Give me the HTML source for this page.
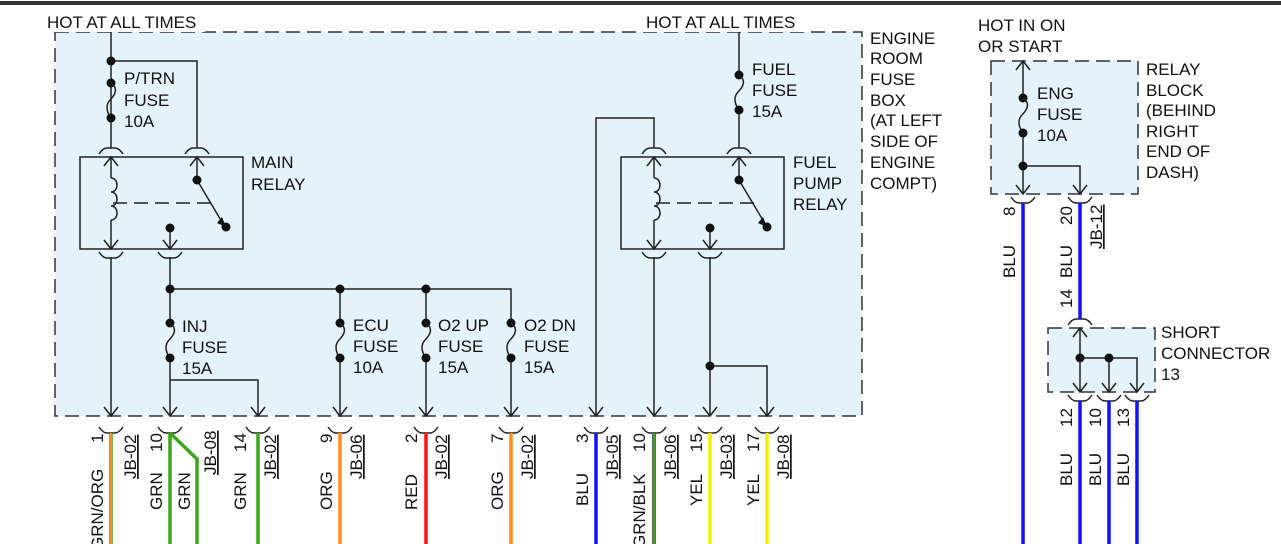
<!DOCTYPE html>
<html><head><meta charset="utf-8"><style>
html,body{margin:0;padding:0;background:#fff;width:1281px;height:544px;overflow:hidden}
svg{display:block}
text{font-family:"Liberation Sans",sans-serif;font-size:17px;fill:#111}
</style></head><body>
<svg width="1281" height="544" viewBox="0 0 1281 544" xmlns="http://www.w3.org/2000/svg">
<defs>
<g id="fc"><path d="M-12,6 Q-8,0 -4,0 H4 Q8,0 12,6" fill="none" stroke="#222" stroke-width="1.5"/></g>
<g id="mc"><path d="M-12,-5 Q-8,1 -4,1 H4 Q8,1 12,-5" fill="none" stroke="#222" stroke-width="1.5"/></g>
<g id="ad"><path d="M-7,-9 L0,0 L7,-9" fill="none" stroke="#222" stroke-width="1.5"/></g>
<g id="au"><path d="M-7,9 L0,0 L7,9" fill="none" stroke="#222" stroke-width="1.5"/></g>
<g id="fz"><circle cx="0" cy="0" r="4.5" fill="#111"/><path d="M0,0 c7,5 5,11 -1,17 c-5,5 -3,13 1,18" fill="none" stroke="#222" stroke-width="1.5"/><circle cx="0" cy="35" r="4.5" fill="#111"/></g>
<g id="coil"><path d="M0,0 c8,0 8,14 0,14 c8,0 8,14 0,14 c8,0 8,14 0,14" fill="none" stroke="#222" stroke-width="1.5"/></g>
</defs>
<rect x="0" y="1" width="1281" height="4" fill="#333"/>
<rect x="55" y="32" width="807" height="384" fill="#e4f2fa" stroke="#333" stroke-width="1.5" stroke-dasharray="14,7"/>
<rect x="991" y="61" width="147" height="133" fill="#e4f2fa" stroke="#333" stroke-width="1.5" stroke-dasharray="14,7"/>
<rect x="1048" y="328" width="107" height="64" fill="#e4f2fa" stroke="#333" stroke-width="1.5" stroke-dasharray="14,7"/>
<rect x="45" y="12" width="160" height="20" fill="#fff"/>
<rect x="640" y="12" width="165" height="20" fill="#fff"/>
<text x="47" y="28">HOT AT ALL TIMES</text>
<text x="646" y="28">HOT AT ALL TIMES</text>
<g fill="#111">
<text x="870" y="44">ENGINE</text><text x="870" y="64">ROOM</text><text x="870" y="85">FUSE</text><text x="870" y="106">BOX</text><text x="870" y="126">(AT LEFT</text><text x="870" y="147">SIDE OF</text><text x="870" y="168">ENGINE</text><text x="870" y="189">COMPT)</text>
<text x="124" y="84">P/TRN</text><text x="124" y="106">FUSE</text><text x="124" y="127">10A</text>
<text x="251" y="168">MAIN</text><text x="251" y="190">RELAY</text>
<text x="182" y="332">INJ</text><text x="182" y="353">FUSE</text><text x="182" y="374">15A</text>
<text x="353" y="331">ECU</text><text x="353" y="352">FUSE</text><text x="353" y="373">10A</text>
<text x="438" y="331">O2 UP</text><text x="438" y="352">FUSE</text><text x="438" y="373">15A</text>
<text x="524" y="331">O2 DN</text><text x="524" y="352">FUSE</text><text x="524" y="373">15A</text>
<text x="752" y="75">FUEL</text><text x="752" y="96">FUSE</text><text x="752" y="117">15A</text>
<text x="793" y="168">FUEL</text><text x="793" y="189">PUMP</text><text x="793" y="210">RELAY</text>
<text x="978" y="31">HOT IN ON</text><text x="978" y="52">OR START</text>
<text x="1037" y="99">ENG</text><text x="1037" y="120">FUSE</text><text x="1037" y="141">10A</text>
<text x="1146" y="75">RELAY</text><text x="1146" y="96">BLOCK</text><text x="1146" y="116">(BEHIND</text><text x="1146" y="137">RIGHT</text><text x="1146" y="157">END OF</text><text x="1146" y="178">DASH)</text>
<text x="1161" y="338">SHORT</text><text x="1161" y="359">CONNECTOR</text><text x="1161" y="380">13</text>
</g>
<g stroke="#222" stroke-width="1.5" fill="none">
<path d="M111,32 V148 M111,61 H197 V148"/>
<rect x="80" y="157" width="163" height="92"/>
<path d="M111,157 V178 M111,220 V249"/>
<path d="M197,157 V180 L222,222"/>
<path d="M113,203 H213" stroke-dasharray="14,7"/>
<path d="M170,228 V249"/>
<path d="M111,257 V416 M170,257 V289 H511 V323 M170,289 V323 M340,289 V323 M426,289 V323 M170,358 V380 M170,380 V416 M170,380 H258 V416 M340,358 V416 M426,358 V416 M511,358 V416"/>
<path d="M739,32 V75 M739,110 V148"/>
<rect x="621" y="157" width="163" height="92"/>
<path d="M654,157 V178 M654,220 V249"/>
<path d="M739,157 V180 L764,222"/>
<path d="M656,203 H755" stroke-dasharray="14,7"/>
<path d="M710,228 V249"/>
<path d="M596,416 V118 H654 V148 M654,257 V416 M710,257 V416 M710,366 H767 V416"/>
<path d="M1023,61 V98 M1023,133 V194 M1023,166 H1080 V194"/>
<path d="M1080,328 V392 M1080,358 H1137 V392 M1109,358 V392"/>
</g>
<g fill="#111">
<circle cx="111" cy="61" r="4.5"/><circle cx="197" cy="180" r="4.5"/><circle cx="226" cy="227" r="4.5"/><circle cx="170" cy="228" r="4.5"/>
<circle cx="170" cy="289" r="4.5"/><circle cx="340" cy="289" r="4.5"/><circle cx="426" cy="289" r="4.5"/>
<circle cx="739" cy="180" r="4.5"/><circle cx="767" cy="227" r="4.5"/><circle cx="710" cy="228" r="4.5"/><circle cx="710" cy="366" r="4.5"/>
<circle cx="1023" cy="166" r="4.5"/><circle cx="1080" cy="358" r="4.5"/><circle cx="1109" cy="358" r="4.5"/>
</g>
<path d="M226,227 l-9,-4 l5,-6 z" fill="#111"/>
<path d="M767,227 l-9,-4 l5,-6 z" fill="#111"/>
<use href="#fz" x="111" y="83"/><use href="#fz" x="170" y="323"/><use href="#fz" x="340" y="323"/><use href="#fz" x="426" y="323"/><use href="#fz" x="511" y="323"/>
<use href="#fz" x="739" y="75"/><use href="#fz" x="1023" y="98"/>
<use href="#coil" x="111" y="178"/><use href="#coil" x="654" y="178"/>
<use href="#fc" x="111" y="148"/><use href="#fc" x="197" y="148"/><use href="#fc" x="654" y="148"/><use href="#fc" x="739" y="148"/>
<use href="#au" x="111" y="157"/><use href="#au" x="197" y="157"/><use href="#au" x="654" y="157"/><use href="#au" x="739" y="157"/>
<use href="#ad" x="111" y="249"/><use href="#ad" x="170" y="249"/><use href="#ad" x="654" y="249"/><use href="#ad" x="710" y="249"/>
<use href="#mc" x="111" y="257"/><use href="#mc" x="170" y="257"/><use href="#mc" x="654" y="257"/><use href="#mc" x="710" y="257"/>
<g>
<use href="#ad" x="111" y="416"/><use href="#ad" x="170" y="416"/><use href="#ad" x="258" y="416"/><use href="#ad" x="340" y="416"/><use href="#ad" x="426" y="416"/><use href="#ad" x="511" y="416"/><use href="#ad" x="596" y="416"/><use href="#ad" x="654" y="416"/><use href="#ad" x="710" y="416"/><use href="#ad" x="767" y="416"/>
<use href="#mc" x="111" y="432"/><use href="#mc" x="170" y="432"/><use href="#mc" x="258" y="432"/><use href="#mc" x="340" y="432"/><use href="#mc" x="426" y="432"/><use href="#mc" x="511" y="432"/><use href="#mc" x="596" y="432"/><use href="#mc" x="654" y="432"/><use href="#mc" x="710" y="432"/><use href="#mc" x="767" y="432"/>
</g>
<use href="#au" x="1023" y="61"/><use href="#ad" x="1023" y="194"/><use href="#ad" x="1080" y="194"/>
<use href="#mc" x="1023" y="202"/><use href="#mc" x="1080" y="202"/>
<use href="#fc" x="1080" y="319"/><use href="#au" x="1080" y="328"/>
<use href="#ad" x="1080" y="392"/><use href="#ad" x="1109" y="392"/><use href="#ad" x="1137" y="392"/>
<use href="#mc" x="1080" y="400"/><use href="#mc" x="1109" y="400"/><use href="#mc" x="1137" y="400"/>
<g stroke-width="3.5" fill="none">
<path d="M111,433 V544" stroke="#44a020"/><path d="M111,433 V544" stroke="#ff8c1a" stroke-width="2"/>
<path d="M170,433 V544 M170,433 L197,459 V544" stroke="#3aa51e"/>
<path d="M258,433 V544" stroke="#3aa51e"/>
<path d="M340,433 V544" stroke="#ff8c1a"/>
<path d="M426,433 V544" stroke="#ff1010"/>
<path d="M511,433 V544" stroke="#ff8c1a"/>
<path d="M596,433 V544" stroke="#1010ff"/>
<path d="M654,433 V544" stroke="#333"/><path d="M654,433 V544" stroke="#3aa51e" stroke-width="2"/>
<path d="M710,433 V544" stroke="#f5f000"/>
<path d="M767,433 V544" stroke="#f5f000"/>
<path d="M1023,203 V544 M1080,203 V319 M1080,401 V544 M1109,401 V544 M1137,401 V544" stroke="#1010ff"/>
</g>
<g>
<text transform="translate(103,443) rotate(-90)">1</text>
<text transform="translate(103,550) rotate(-90)">GRN/ORG</text>
<text transform="translate(136,479) rotate(-90)" text-decoration="underline">JB-02</text>
<text transform="translate(162,452) rotate(-90)">10</text>
<text transform="translate(162,510) rotate(-90)">GRN</text>
<text transform="translate(190,510) rotate(-90)">GRN</text>
<text transform="translate(216,475) rotate(-90)" text-decoration="underline">JB-08</text>
<text transform="translate(246,452) rotate(-90)">14</text>
<text transform="translate(246,510) rotate(-90)">GRN</text>
<text transform="translate(276,479) rotate(-90)" text-decoration="underline">JB-02</text>
<text transform="translate(332,443) rotate(-90)">9</text>
<text transform="translate(332,510) rotate(-90)">ORG</text>
<text transform="translate(362,479) rotate(-90)" text-decoration="underline">JB-06</text>
<text transform="translate(417,443) rotate(-90)">2</text>
<text transform="translate(417,510) rotate(-90)">RED</text>
<text transform="translate(447,479) rotate(-90)" text-decoration="underline">JB-02</text>
<text transform="translate(503,443) rotate(-90)">7</text>
<text transform="translate(503,510) rotate(-90)">ORG</text>
<text transform="translate(533,479) rotate(-90)" text-decoration="underline">JB-02</text>
<text transform="translate(588,443) rotate(-90)">3</text>
<text transform="translate(588,506) rotate(-90)">BLU</text>
<text transform="translate(618,479) rotate(-90)" text-decoration="underline">JB-05</text>
<text transform="translate(645,452) rotate(-90)">10</text>
<text transform="translate(645,548) rotate(-90)">GRN/BLK</text>
<text transform="translate(676,479) rotate(-90)" text-decoration="underline">JB-06</text>
<text transform="translate(702,452) rotate(-90)">15</text>
<text transform="translate(702,506) rotate(-90)">YEL</text>
<text transform="translate(732,479) rotate(-90)" text-decoration="underline">JB-03</text>
<text transform="translate(759,452) rotate(-90)">17</text>
<text transform="translate(759,506) rotate(-90)">YEL</text>
<text transform="translate(789,479) rotate(-90)" text-decoration="underline">JB-08</text>
<text transform="translate(1015,216) rotate(-90)">8</text>
<text transform="translate(1015,278) rotate(-90)">BLU</text>
<text transform="translate(1072,225) rotate(-90)">20</text>
<text transform="translate(1072,278) rotate(-90)">BLU</text>
<text transform="translate(1102,249) rotate(-90)" text-decoration="underline">JB-12</text>
<text transform="translate(1072,308) rotate(-90)">14</text>
<text transform="translate(1072,427) rotate(-90)">12</text>
<text transform="translate(1072,486) rotate(-90)">BLU</text>
<text transform="translate(1101,427) rotate(-90)">10</text>
<text transform="translate(1101,486) rotate(-90)">BLU</text>
<text transform="translate(1129,427) rotate(-90)">13</text>
<text transform="translate(1129,486) rotate(-90)">BLU</text>
</g>
</svg>
</body></html>
